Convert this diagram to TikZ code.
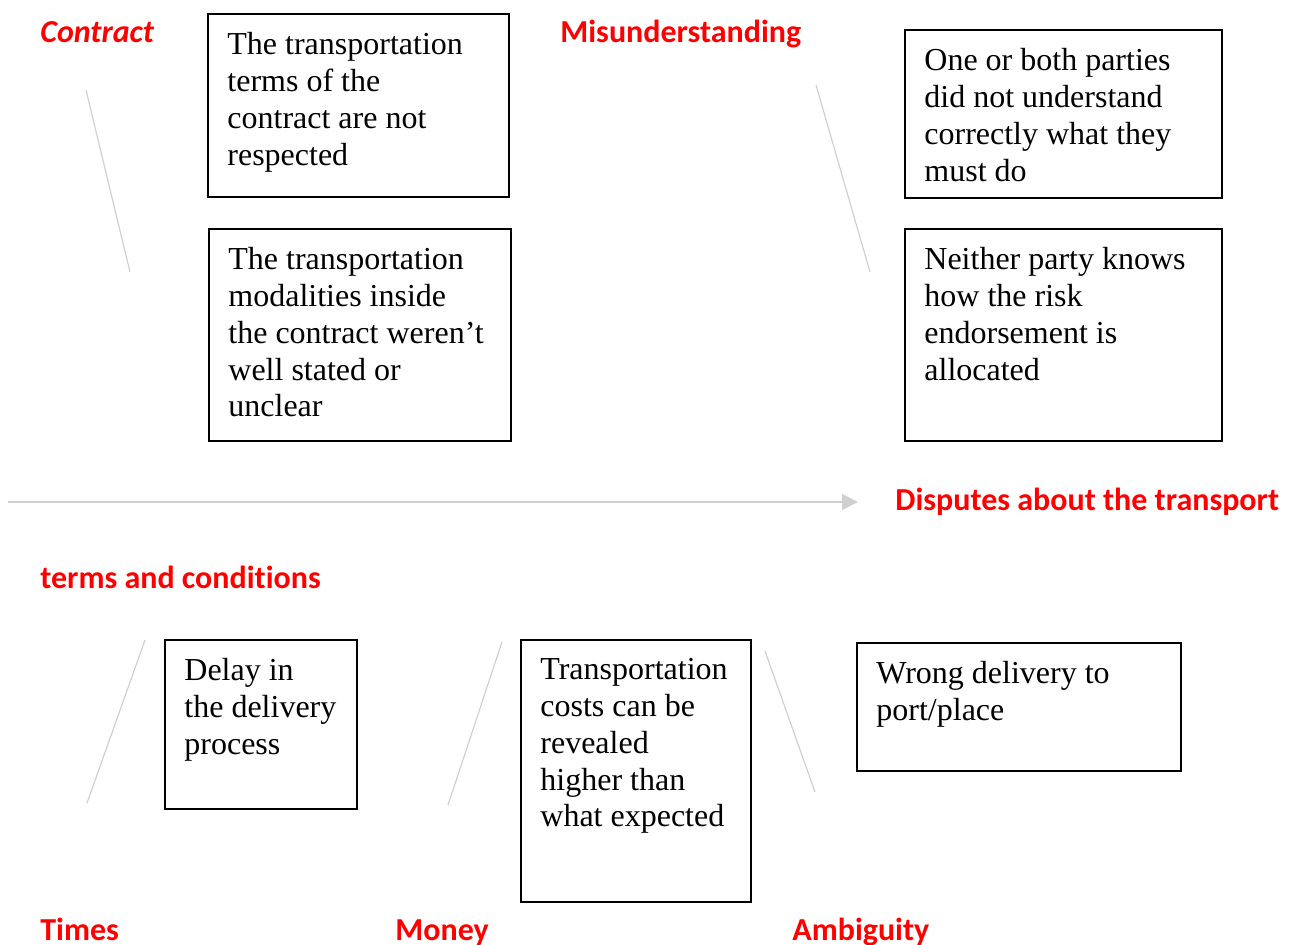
\documentclass[tikz,border=0pt]{standalone}
\usepackage{fontspec}
\setmainfont{Liberation Serif}
\newfontfamily\headfont[Ligatures=NoCommon]{Carlito}
\usetikzlibrary{positioning}
\usetikzlibrary{arrows.meta}
\definecolor{headred}{RGB}{255,0,0}
\definecolor{bonegray}{RGB}{208,208,208}

\tikzset{
  cause/.style={draw, line width=0.8pt, anchor=north west, inner sep=0pt},
  causetext/.style={anchor=north west, align=left, inner xsep=10pt, inner ysep=9.5pt,
    font=\fontsize{16}{18.4}\selectfont},
  heading/.style={anchor=base west, inner sep=0pt, text=headred,
    font=\headfont\bfseries\fontsize{16}{19}\selectfont},
  bone/.style={draw=bonegray, line width=0.6pt}
}

\begin{document}
\begin{tikzpicture}[x=0.5pt, y=-0.5pt]
        \useasboundingbox (0,0) rectangle (1290,944);

        % cause boxes
        \node[cause, minimum width=150.5pt, minimum height=91.5pt] (b1) at (207,13) {};
        \node[cause, minimum width=151pt, minimum height=106pt] (b2) at (208,228) {};
        \node[cause, minimum width=158.5pt, minimum height=84pt] (b3) at (904,29) {};
        \node[cause, minimum width=158.5pt, minimum height=106pt] (b4) at (904,228) {};
        \node[cause, minimum width=96pt, minimum height=84.5pt] (b5) at (164,639) {};
        \node[cause, minimum width=115pt, minimum height=131pt] (b6) at (520,639) {};
        \node[cause, minimum width=162pt, minimum height=64pt] (b7) at (856,642) {};

        \node[causetext] (t1) at (b1.north west) {The transportation\\terms of the\\contract are not\\respected};
        \node[causetext] (t2) at (b2.north west) {The transportation\\modalities inside\\the contract weren’t\\well stated or\\unclear};
        \node[causetext] (t3) at (b3.north west) {One or both parties\\did not understand\\correctly what they\\must do};
        \node[causetext] (t4) at (b4.north west) {Neither party knows\\how the risk\\endorsement is\\allocated};
        \node[causetext] (t5) at (b5.north west) {Delay in\\the delivery\\process};
        \node[causetext] (t6) at (b6.north west) {Transportation\\costs can be\\revealed\\higher than\\what expected};
        \node[causetext] (t7) at (b7.north west) {Wrong delivery to\\port/place};

        % category headings
        \node[heading, font=\headfont\bfseries\itshape\fontsize{16}{19}\selectfont] (contract) at (40,42) {Contract};
        \node[heading] (misund) at (560,42) {Misunderstanding};
        \node[heading] (effect) at (895,510) {Disputes about the transport};
        \node[heading] (terms) at (40,588) {terms and conditions};
        \node[heading] (times) at (40,940) {Times};
        \node[heading] (money) at (395,940) {Money};
        \node[heading] (ambig) at (792,940) {Ambiguity};

        % spine and bones
        \coordinate (tail) at (8,502);
        \coordinate (head) at (858,502);
        \draw[bone, -{Triangle[length=8pt, width=8pt]}] (tail) -- (head);

        \coordinate (c1) at (86,90);   \coordinate (c2) at (130,272);
        \coordinate (m1) at (816,85);  \coordinate (m2) at (870,272);
        \coordinate (d1) at (145,640); \coordinate (d2) at (87,803);
        \coordinate (p1) at (502,642); \coordinate (p2) at (448,805);
        \coordinate (a1) at (765,651); \coordinate (a2) at (815,792);
        \draw[bone] (c1) -- (c2);
        \draw[bone] (m1) -- (m2);
        \draw[bone] (d1) -- (d2);
        \draw[bone] (p1) -- (p2);
        \draw[bone] (a1) -- (a2);
\end{tikzpicture}
\end{document}
